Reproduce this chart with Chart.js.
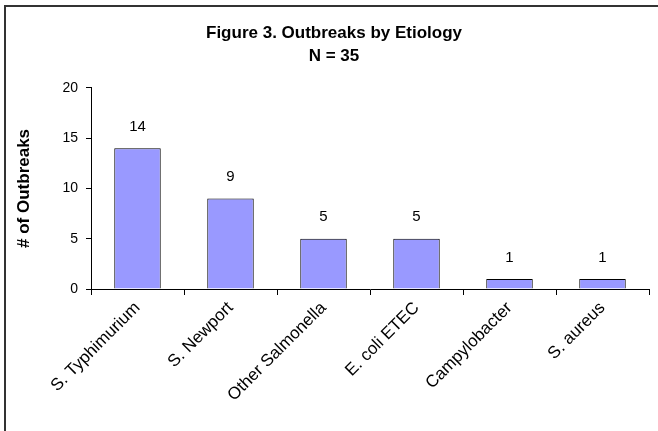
<!DOCTYPE html>
<html>
<head>
<meta charset="utf-8">
<script src="https://cdn.jsdelivr.net/npm/chart.js@4.4.1/dist/chart.umd.min.js"></script>
<style>
  html, body { margin: 0; padding: 0; background: #fff; overflow: hidden; }
  #frame {
    position: absolute; left: 4px; top: 5px; width: 700px; height: 500px;
    border-left: 2px solid #333; border-top: 2px solid #333;
  }
  #wrap { position: absolute; left: 0; top: 0; width: 658px; height: 431px; }
</style>
</head>
<body>
<div id="frame"></div>
<div id="wrap"><canvas id="chart" width="658" height="431"></canvas></div>
<script>
// Datos
const etiologies = ['S. Typhimurium', 'S. Newport', 'Other Salmonella', 'E. coli ETEC', 'Campylobacter', 'S. aureus'];
const outbreaks = [14, 9, 5, 5, 1, 1];
const titleLines = ['Figure 3. Outbreaks by Etiology', 'N = 35'];
const yTitle = '# of Outbreaks';

const FONT = "'Liberation Sans', Arial, sans-serif";

// Etiquetas de valor encima de cada barra
const barLabels = {
    id: 'barLabels',
    afterDatasetsDraw(chart) {
        const ctx = chart.ctx;
        const meta = chart.getDatasetMeta(0);
        ctx.save();
        ctx.fillStyle = '#000';
        ctx.font = '15px ' + FONT;
        ctx.textAlign = 'center';
        ctx.textBaseline = 'bottom';
        meta.data.forEach((bar, i) => {
            ctx.fillText(String(outbreaks[i]), bar.x, bar.y - 14);
        });
        ctx.restore();
    }
};

const ctx = document.getElementById('chart').getContext('2d');
new Chart(ctx, {
    type: 'bar',
    data: {
        labels: etiologies,
        datasets: [{
            data: outbreaks,
            backgroundColor: '#9999FF',
            borderColor: '#000',
            borderWidth: 1,
            categoryPercentage: 1,
            barPercentage: 0.5
        }]
    },
    options: {
        responsive: false,
        animation: false,
        layout: { padding: { left: 19, right: 9, top: 0, bottom: 0 } },
        plugins: {
            legend: { display: false },
            tooltip: { enabled: false },
            title: {
                display: true,
                text: titleLines,
                color: '#000',
                font: { family: FONT, size: 17, weight: 'bold', lineHeight: 1.35 },
                padding: { top: 22, bottom: 20 }
            }
        },
        scales: {
            x: {
                grid: { display: true, drawOnChartArea: false, offset: true, tickLength: 6, tickColor: '#000' },
                border: { color: '#000', width: 1 },
                ticks: {
                    color: '#000',
                    font: { family: FONT, size: 17 },
                    autoSkip: false,
                    minRotation: 45,
                    maxRotation: 45,
                    padding: 3
                },
                afterFit(scale) { scale.height = 142; }
            },
            y: {
                min: 0,
                max: 20,
                ticks: { stepSize: 5, color: '#000', font: { family: FONT, size: 14 }, padding: 8 },
                grid: { display: true, drawOnChartArea: false, tickLength: 5, tickColor: '#000' },
                border: { color: '#000', width: 1 },
                title: {
                    display: true,
                    text: yTitle,
                    color: '#000',
                    font: { family: FONT, size: 17, weight: 'bold' },
                    padding: { top: -5, bottom: 0 }
                },
                afterFit(scale) { scale.width = 72; }
            }
        }
    },
    plugins: [barLabels]
});
</script>
</body>
</html>
